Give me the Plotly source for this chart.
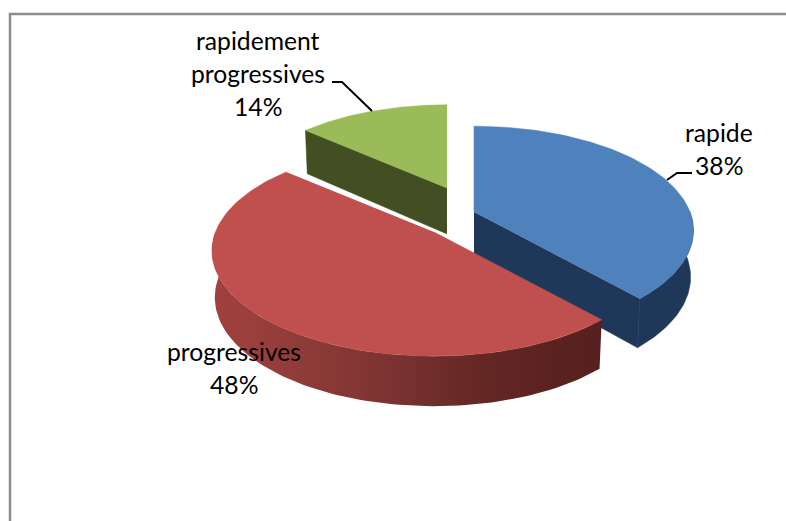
import numpy as np
import plotly.graph_objects as go

categories = ["rapide", "progressives", "rapidement progressives"]
slice_values = [38.4, 48.0, 13.6]
percent_labels = [38, 48, 14]
label_lines = [["rapide"], ["progressives"], ["rapidement", "progressives"]]

top_colors = ["#4f81bd", "#c0504d", "#9bbb59"]
side_colors = ["#1f3859", "#7a3230", "#434f22"]
apexes = [(474, 212), (434, 232), (447, 188)]
slice_scale = [1.0, 1.012, 0.97]
label_centers = [(719, 132), (234, 351), (258, 40)]
leaders = [[(692, 173), (677, 173), (667, 180)], None, [(332, 82), (342, 82), (372, 111)]]

R, K, P = 216.0, 101.0, 0.177


def project(theta, apex, s):
    u, v = np.sin(theta), -np.cos(theta)
    f = s / (1 - P * v)
    return apex[0] + R * u * f, apex[1] + K * v * f, v


def lower(x, y, v, apex):
    return apex[0] + (x - apex[0]) * 0.987, y + 46 + 4 * v


def poly(xs, ys, color, **kw):
    return go.Scatter(x=xs, y=ys, mode="lines", fill="toself", fillcolor=color,
                      line=dict(width=0.5, color=color), hoverinfo="skip", showlegend=False, **kw)


total = sum(slice_values)
edges = np.concatenate([[0], np.cumsum(slice_values)]) / total * 2 * np.pi
fig = go.Figure()

for i in [2, 0, 1]:
    a, b = edges[i], edges[i + 1]
    apex = apexes[i]
    th = np.linspace(a, b, 120)
    x, y, v = project(th, apex, slice_scale[i])
    lx, ly = lower(x, y, v, apex)
    vis = np.cos(th) < 0.02
    if vis.any():
        rx, ry = x[vis], y[vis]
        rlx, rly = lx[vis], ly[vis]
        xs = np.concatenate([rx, rlx[::-1]])
        ys = np.concatenate([ry, rly[::-1]])
        if i == 1:
            fig.add_trace(go.Scatter(
                x=xs, y=ys, mode="lines", fill="toself",
                line=dict(width=0), hoverinfo="skip", showlegend=False,
                fillgradient=dict(type="horizontal", colorscale=[
                    [0, "#a0413e"], [0.15, "#963e3b"], [0.45, "#7c3331"], [0.7, "#632724"], [1, "#55201d"]])))
        else:
            fig.add_trace(poly(xs, ys, side_colors[i]))
    if i in (0, 2):
        t = b if i == 0 else a
        ex, ey, ev = project(t, apex, slice_scale[i])
        elx, ely = lower(ex, ey, ev, apex)
        alx, aly = lower(apex[0], apex[1], 0.0, apex)
        fig.add_trace(poly([apex[0], ex, elx, alx], [apex[1], ey, ely, aly], side_colors[i]))
    fig.add_trace(poly(np.concatenate([[apex[0]], x]), np.concatenate([[apex[1]], y]), top_colors[i]))

for i, seg in enumerate(leaders):
    if seg:
        fig.add_trace(go.Scatter(x=[p[0] for p in seg], y=[p[1] for p in seg], mode="lines",
                                 line=dict(color="black", width=2), hoverinfo="skip", showlegend=False))

annotations = []
for i, lines in enumerate(label_lines):
    cx, cy = label_centers[i]
    for j, s in enumerate(lines + [f"{percent_labels[i]}%"]):
        annotations.append(dict(x=cx, y=cy + j * 33, text=s, showarrow=False, xref="x", yref="y",
                                font=dict(family="Lato", size=24.7, color="#000000")))

fig.update_layout(
    width=786, height=521, autosize=False,
    margin=dict(l=0, r=0, t=0, b=0),
    paper_bgcolor="white", plot_bgcolor="white",
    xaxis=dict(range=[0, 786], visible=False, fixedrange=True),
    yaxis=dict(range=[521, 0], visible=False, fixedrange=True),
    annotations=annotations,
    shapes=[dict(type="rect", xref="x", yref="y", x0=10, y0=14, x1=800, y1=540,
                 line=dict(color="#8c8c8c", width=2.5), layer="below")],
)
fig.write_html("out.html", config={"displayModeBar": False},
               post_script="document.body.style.margin='0';document.documentElement.style.overflow='hidden';")
